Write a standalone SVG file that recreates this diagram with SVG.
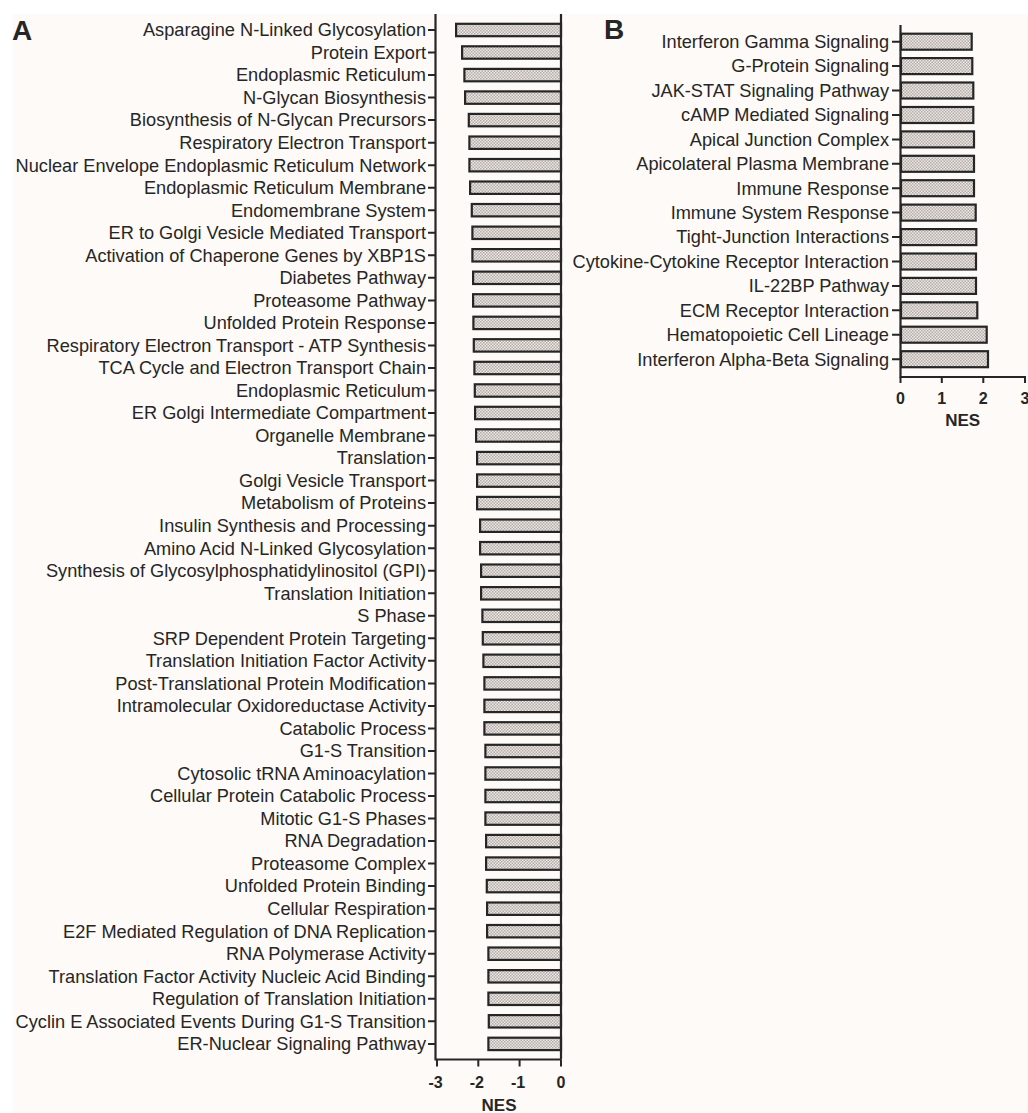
<svg xmlns="http://www.w3.org/2000/svg" width="1028" height="1113" viewBox="0 0 1028 1113">
<defs>
<pattern id="chk" width="3" height="3" patternUnits="userSpaceOnUse">
<rect width="3" height="3" fill="#eee8e4"/>
<rect width="1.5" height="1.5" fill="#b3aca8"/>
<rect x="1.5" y="1.5" width="1.5" height="1.5" fill="#b3aca8"/>
</pattern>
</defs>
<style>
text{font-family:"Liberation Sans",Arial,sans-serif;fill:#262626}
.lbl{font-size:18.2px;text-anchor:end}
.tk{font-size:16px;font-weight:bold;text-anchor:middle}
.ttl{font-size:17px;font-weight:bold;text-anchor:middle}
.pl{font-size:28px;font-weight:bold}
.bar{fill:url(#chk);stroke:#262626;stroke-width:2.2}
.ax{fill:none;stroke:#262626;stroke-width:2.2}
.tick{fill:none;stroke:#262626;stroke-width:2}
</style>
<rect width="1028" height="1113" fill="#ffffff"/>
<rect x="13" y="14" width="1015" height="1099" fill="#fdfaf7"/>
<text class="pl" x="12" y="40">A</text>
<text class="pl" x="604" y="39">B</text>

<g id="panelA-bars">
<g id="a01"><text class="lbl" x="426" y="36.3">Asparagine N-Linked Glycosylation</text><rect class="bar" x="456.1" y="23.8" width="104.9" height="12.4"/></g>
<g id="a02"><text class="lbl" x="426" y="58.8">Protein Export</text><rect class="bar" x="462.1" y="46.3" width="98.9" height="12.4"/></g>
<g id="a03"><text class="lbl" x="426" y="81.4">Endoplasmic Reticulum</text><rect class="bar" x="464.4" y="68.9" width="96.6" height="12.4"/></g>
<g id="a04"><text class="lbl" x="426" y="103.9">N-Glycan Biosynthesis</text><rect class="bar" x="465.1" y="91.4" width="95.9" height="12.4"/></g>
<g id="a05"><text class="lbl" x="426" y="126.4">Biosynthesis of N-Glycan Precursors</text><rect class="bar" x="468.8" y="113.9" width="92.2" height="12.4"/></g>
<g id="a06"><text class="lbl" x="426" y="149.0">Respiratory Electron Transport</text><rect class="bar" x="469.4" y="136.5" width="91.6" height="12.4"/></g>
<g id="a07"><text class="lbl" x="426" y="171.5">Nuclear Envelope Endoplasmic Reticulum Network</text><rect class="bar" x="469.4" y="159.0" width="91.6" height="12.4"/></g>
<g id="a08"><text class="lbl" x="426" y="194.0">Endoplasmic Reticulum Membrane</text><rect class="bar" x="470.1" y="181.5" width="90.9" height="12.4"/></g>
<g id="a09"><text class="lbl" x="426" y="216.5">Endomembrane System</text><rect class="bar" x="471.8" y="204.0" width="89.2" height="12.4"/></g>
<g id="a10"><text class="lbl" x="426" y="239.1">ER to Golgi Vesicle Mediated Transport</text><rect class="bar" x="472.4" y="226.6" width="88.6" height="12.4"/></g>
<g id="a11"><text class="lbl" x="426" y="261.6">Activation of Chaperone Genes by XBP1S</text><rect class="bar" x="472.4" y="249.1" width="88.6" height="12.4"/></g>
<g id="a12"><text class="lbl" x="426" y="284.1">Diabetes Pathway</text><rect class="bar" x="473.1" y="271.6" width="87.9" height="12.4"/></g>
<g id="a13"><text class="lbl" x="426" y="306.7">Proteasome Pathway</text><rect class="bar" x="473.1" y="294.2" width="87.9" height="12.4"/></g>
<g id="a14"><text class="lbl" x="426" y="329.2">Unfolded Protein Response</text><rect class="bar" x="473.4" y="316.7" width="87.6" height="12.4"/></g>
<g id="a15"><text class="lbl" x="426" y="351.7">Respiratory Electron Transport - ATP Synthesis</text><rect class="bar" x="473.8" y="339.2" width="87.2" height="12.4"/></g>
<g id="a16"><text class="lbl" x="426" y="374.3">TCA Cycle and Electron Transport Chain</text><rect class="bar" x="474.4" y="361.8" width="86.6" height="12.4"/></g>
<g id="a17"><text class="lbl" x="426" y="396.8">Endoplasmic Reticulum</text><rect class="bar" x="474.8" y="384.3" width="86.2" height="12.4"/></g>
<g id="a18"><text class="lbl" x="426" y="419.3">ER Golgi Intermediate Compartment</text><rect class="bar" x="475.1" y="406.8" width="85.9" height="12.4"/></g>
<g id="a19"><text class="lbl" x="426" y="441.8">Organelle Membrane</text><rect class="bar" x="476.1" y="429.3" width="84.9" height="12.4"/></g>
<g id="a20"><text class="lbl" x="426" y="464.4">Translation</text><rect class="bar" x="477.1" y="451.9" width="83.9" height="12.4"/></g>
<g id="a21"><text class="lbl" x="426" y="486.9">Golgi Vesicle Transport</text><rect class="bar" x="477.1" y="474.4" width="83.9" height="12.4"/></g>
<g id="a22"><text class="lbl" x="426" y="509.4">Metabolism of Proteins</text><rect class="bar" x="477.1" y="496.9" width="83.9" height="12.4"/></g>
<g id="a23"><text class="lbl" x="426" y="532.0">Insulin Synthesis and Processing</text><rect class="bar" x="480.1" y="519.5" width="80.9" height="12.4"/></g>
<g id="a24"><text class="lbl" x="426" y="554.5">Amino Acid N-Linked Glycosylation</text><rect class="bar" x="480.1" y="542.0" width="80.9" height="12.4"/></g>
<g id="a25"><text class="lbl" x="426" y="577.0">Synthesis of Glycosylphosphatidylinositol (GPI)</text><rect class="bar" x="481.1" y="564.5" width="79.9" height="12.4"/></g>
<g id="a26"><text class="lbl" x="426" y="599.6">Translation Initiation</text><rect class="bar" x="481.1" y="587.1" width="79.9" height="12.4"/></g>
<g id="a27"><text class="lbl" x="426" y="622.1">S Phase</text><rect class="bar" x="482.4" y="609.6" width="78.6" height="12.4"/></g>
<g id="a28"><text class="lbl" x="426" y="644.6">SRP Dependent Protein Targeting</text><rect class="bar" x="482.8" y="632.1" width="78.2" height="12.4"/></g>
<g id="a29"><text class="lbl" x="426" y="667.1">Translation Initiation Factor Activity</text><rect class="bar" x="483.4" y="654.6" width="77.6" height="12.4"/></g>
<g id="a30"><text class="lbl" x="426" y="689.7">Post-Translational Protein Modification</text><rect class="bar" x="484.4" y="677.2" width="76.6" height="12.4"/></g>
<g id="a31"><text class="lbl" x="426" y="712.2">Intramolecular Oxidoreductase Activity</text><rect class="bar" x="484.4" y="699.7" width="76.6" height="12.4"/></g>
<g id="a32"><text class="lbl" x="426" y="734.7">Catabolic Process</text><rect class="bar" x="484.4" y="722.2" width="76.6" height="12.4"/></g>
<g id="a33"><text class="lbl" x="426" y="757.3">G1-S Transition</text><rect class="bar" x="485.4" y="744.8" width="75.6" height="12.4"/></g>
<g id="a34"><text class="lbl" x="426" y="779.8">Cytosolic tRNA Aminoacylation</text><rect class="bar" x="485.4" y="767.3" width="75.6" height="12.4"/></g>
<g id="a35"><text class="lbl" x="426" y="802.3">Cellular Protein Catabolic Process</text><rect class="bar" x="485.4" y="789.8" width="75.6" height="12.4"/></g>
<g id="a36"><text class="lbl" x="426" y="824.9">Mitotic G1-S Phases</text><rect class="bar" x="485.4" y="812.4" width="75.6" height="12.4"/></g>
<g id="a37"><text class="lbl" x="426" y="847.4">RNA Degradation</text><rect class="bar" x="486.1" y="834.9" width="74.9" height="12.4"/></g>
<g id="a38"><text class="lbl" x="426" y="869.9">Proteasome Complex</text><rect class="bar" x="486.1" y="857.4" width="74.9" height="12.4"/></g>
<g id="a39"><text class="lbl" x="426" y="892.4">Unfolded Protein Binding</text><rect class="bar" x="486.8" y="879.9" width="74.2" height="12.4"/></g>
<g id="a40"><text class="lbl" x="426" y="915.0">Cellular Respiration</text><rect class="bar" x="487.1" y="902.5" width="73.9" height="12.4"/></g>
<g id="a41"><text class="lbl" x="426" y="937.5">E2F Mediated Regulation of DNA Replication</text><rect class="bar" x="487.1" y="925.0" width="73.9" height="12.4"/></g>
<g id="a42"><text class="lbl" x="426" y="960.0">RNA Polymerase Activity</text><rect class="bar" x="488.4" y="947.5" width="72.6" height="12.4"/></g>
<g id="a43"><text class="lbl" x="426" y="982.6">Translation Factor Activity Nucleic Acid Binding</text><rect class="bar" x="488.4" y="970.1" width="72.6" height="12.4"/></g>
<g id="a44"><text class="lbl" x="426" y="1005.1">Regulation of Translation Initiation</text><rect class="bar" x="488.4" y="992.6" width="72.6" height="12.4"/></g>
<g id="a45"><text class="lbl" x="426" y="1027.6">Cyclin E Associated Events During G1-S Transition</text><rect class="bar" x="488.8" y="1015.1" width="72.2" height="12.4"/></g>
<g id="a46"><text class="lbl" x="426" y="1050.2">ER-Nuclear Signaling Pathway</text><rect class="bar" x="488.4" y="1037.7" width="72.6" height="12.4"/></g>
</g>

<g id="panelA-axes">
<path class="ax" d="M435.5,14 V1059.5 H561 M561,14 V1059.5"/>
<path class="tick" d="M428,30 h7 M428,52.5 h7 M428,75.1 h7 M428,97.6 h7 M428,120.1 h7 M428,142.7 h7 M428,165.2 h7 M428,187.7 h7 M428,210.2 h7 M428,232.8 h7 M428,255.3 h7 M428,277.8 h7 M428,300.4 h7 M428,322.9 h7 M428,345.4 h7 M428,368 h7 M428,390.5 h7 M428,413 h7 M428,435.5 h7 M428,458.1 h7 M428,480.6 h7 M428,503.1 h7 M428,525.7 h7 M428,548.2 h7 M428,570.7 h7 M428,593.3 h7 M428,615.8 h7 M428,638.3 h7 M428,660.8 h7 M428,683.4 h7 M428,705.9 h7 M428,728.4 h7 M428,751 h7 M428,773.5 h7 M428,796 h7 M428,818.6 h7 M428,841.1 h7 M428,863.6 h7 M428,886.1 h7 M428,908.7 h7 M428,931.2 h7 M428,953.7 h7 M428,976.3 h7 M428,998.8 h7 M428,1021.3 h7 M428,1043.9 h7"/>
<path class="tick" d="M437,1059.5 v7 M478.3,1059.5 v7 M519.6,1059.5 v7 M561,1059.5 v7"/>
<text class="tk" x="435.5" y="1088">-3</text>
<text class="tk" x="476.8" y="1088">-2</text>
<text class="tk" x="518.1" y="1088">-1</text>
<text class="tk" x="561" y="1088">0</text>
<text class="ttl" x="499" y="1110.5">NES</text>
</g>

<g id="panelB-bars">
<g id="b01"><text class="lbl" x="889" y="48">Interferon Gamma Signaling</text><rect class="bar" x="901" y="33.7" width="70.7" height="16"/></g>
<g id="b02"><text class="lbl" x="889" y="72.4">G-Protein Signaling</text><rect class="bar" x="901" y="58.1" width="71.3" height="16"/></g>
<g id="b03"><text class="lbl" x="889" y="96.8">JAK-STAT Signaling Pathway</text><rect class="bar" x="901" y="82.5" width="72.3" height="16"/></g>
<g id="b04"><text class="lbl" x="889" y="121.3">cAMP Mediated Signaling</text><rect class="bar" x="901" y="107" width="72.3" height="16"/></g>
<g id="b05"><text class="lbl" x="889" y="145.7">Apical Junction Complex</text><rect class="bar" x="901" y="131.4" width="73" height="16"/></g>
<g id="b06"><text class="lbl" x="889" y="170.1">Apicolateral Plasma Membrane</text><rect class="bar" x="901" y="155.8" width="73" height="16"/></g>
<g id="b07"><text class="lbl" x="889" y="194.5">Immune Response</text><rect class="bar" x="901" y="180.2" width="73" height="16"/></g>
<g id="b08"><text class="lbl" x="889" y="218.9">Immune System Response</text><rect class="bar" x="901" y="204.6" width="74.7" height="16"/></g>
<g id="b09"><text class="lbl" x="889" y="243.4">Tight-Junction Interactions</text><rect class="bar" x="901" y="229.1" width="75.3" height="16"/></g>
<g id="b10"><text class="lbl" x="889" y="267.8">Cytokine-Cytokine Receptor Interaction</text><rect class="bar" x="901" y="253.5" width="75" height="16"/></g>
<g id="b11"><text class="lbl" x="889" y="292.2">IL-22BP Pathway</text><rect class="bar" x="901" y="277.9" width="75" height="16"/></g>
<g id="b12"><text class="lbl" x="889" y="316.6">ECM Receptor Interaction</text><rect class="bar" x="901" y="302.3" width="76.3" height="16"/></g>
<g id="b13"><text class="lbl" x="889" y="341">Hematopoietic Cell Lineage</text><rect class="bar" x="901" y="326.7" width="85.7" height="16"/></g>
<g id="b14"><text class="lbl" x="889" y="365.5">Interferon Alpha-Beta Signaling</text><rect class="bar" x="901" y="351.2" width="87" height="16"/></g>
</g>

<g id="panelB-axes">
<path class="ax" d="M900.5,25 V377 H1026"/>
<path class="tick" d="M892,41.7 h8 M892,66.1 h8 M892,90.5 h8 M892,115 h8 M892,139.4 h8 M892,163.8 h8 M892,188.2 h8 M892,212.6 h8 M892,237.1 h8 M892,261.5 h8 M892,285.9 h8 M892,310.3 h8 M892,334.7 h8 M892,359.2 h8"/>
<path class="tick" d="M900.5,377 v6 M941.8,377 v6 M983.3,377 v6 M1025,377 v6"/>
<text class="tk" x="900.5" y="404">0</text>
<text class="tk" x="941.8" y="404">1</text>
<text class="tk" x="983.3" y="404">2</text>
<text class="tk" x="1025" y="404">3</text>
<text class="ttl" x="962.7" y="425.5">NES</text>
</g>
</svg>
